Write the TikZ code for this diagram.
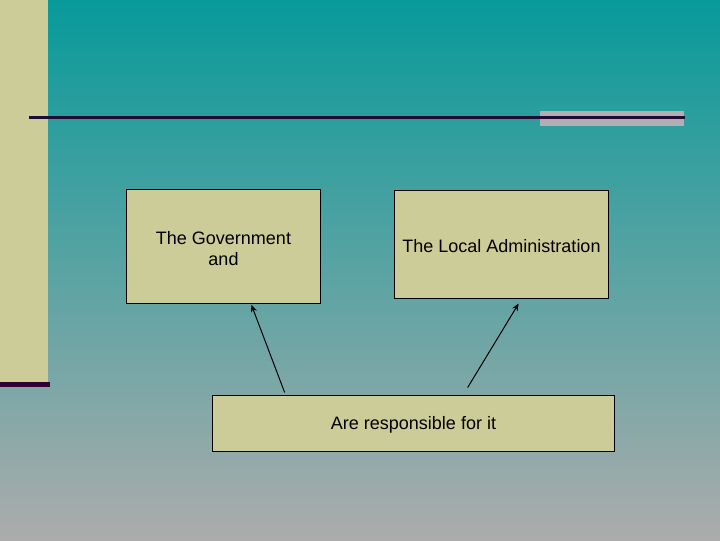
\documentclass[tikz,border=0pt]{standalone}
\usepackage{fontspec}
\setmainfont{Liberation Sans}
\definecolor{slteal}{RGB}{8,154,154}
\definecolor{slgray}{RGB}{172,172,172}
\definecolor{slbeige}{RGB}{204,204,153}
\definecolor{slnavy}{RGB}{30,12,52}
\definecolor{slplum}{RGB}{51,0,51}
\definecolor{slmauve}{RGB}{180,174,180}
\usetikzlibrary{arrows.meta,positioning,calc}
\tikzset{
  tbox/.style={draw=black, fill=slbeige, line width=0.75pt, inner sep=0pt},
  tlabel/.style={align=center, inner sep=0pt, font=\fontsize{13.5}{15.75}\selectfont},
  arr/.style={line width=0.75pt, -{Stealth[length=5.5pt,width=4.5pt]}}
}

\begin{document}
\begin{tikzpicture}[x=0.75pt, y=-0.75pt]
  \useasboundingbox (0,0) rectangle (720,540);
  % background and slide decoration
  \fill[top color=slteal, bottom color=slgray] (0,0) rectangle (720,540);
  \fill[slbeige] (0,0) rectangle (48,382);
  \fill[slplum] (0,382) rectangle (50,386.5);
  \fill[slmauve] (540,111) rectangle (684,126);
  \draw[slnavy, line width=2.25pt] (29,117.5) -- (685,117.5);

  \node[tbox, minimum width=145pt, minimum height=85pt] (gov) at (223.5,246.5) {};
  \node[tlabel] (govtxt) at ([yshift=-1.5pt]gov.center) {The Government\\and};
  \node[tbox, minimum width=161pt, minimum height=81pt] (local) at (501.5,244) {};
  \node[tlabel] (localtxt) at ([yshift=-1.5pt]local.center) {The Local Administration};
  \node[tbox, minimum width=302pt, minimum height=42pt] (resp) at (413.5,423) {};
  \node[tlabel] (resptxt) at ([yshift=-1.5pt]resp.center) {Are responsible for it};

  \draw[arr] ($(resp.north west)+(73,-2)$) -- ($(gov.south west)+(125,1)$);
  \draw[arr] ($(resp.north west)+(256,-7)$) -- ($(local.south west)+(125,5)$);
\end{tikzpicture}
\end{document}
